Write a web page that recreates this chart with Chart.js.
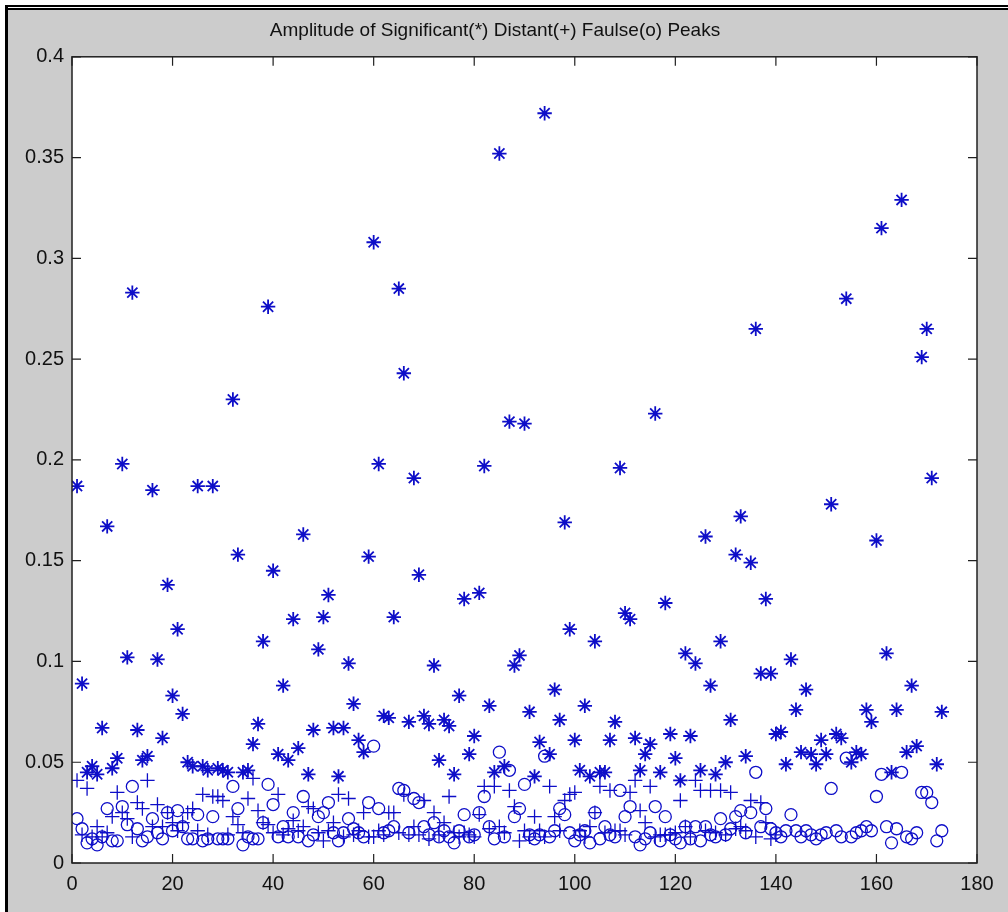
<!DOCTYPE html>
<html>
<head>
<meta charset="utf-8">
<script src="https://cdn.jsdelivr.net/npm/chart.js@4.4.1/dist/chart.umd.min.js"></script>
<style>
  html, body { margin: 0; padding: 0; background: #ffffff; width: 1008px; height: 912px; overflow: hidden; }
  .blk { position: absolute; background: #000; }
  #grey { position: absolute; left: 8px; top: 10px; width: 1000px; height: 902px; background: #cccccc; }
  #c { position: absolute; left: 0; top: 0; }
</style>
</head>
<body>
<div id="grey"></div>
<div class="blk" style="left:5px;top:5px;width:1003px;height:2px"></div>
<div class="blk" style="left:5px;top:8px;width:1003px;height:2px"></div>
<div class="blk" style="left:5px;top:5px;width:3px;height:907px"></div>
<canvas id="c" width="1008" height="912"></canvas>
<script>
// ---- data (index 1..N along x) ----
const titleText = 'Amplitude of Significant(*) Distant(+) Faulse(o) Peaks';
const xTickLabels = ['0','20','40','60','80','100','120','140','160','180'];
const yTickLabels = ['0','0.05','0.1','0.15','0.2','0.25','0.3','0.35','0.4'];

// Significant peaks (*)
const significant = [
  0.187,0.089,0.045,0.048,0.044,0.067,0.167,0.047,0.052,0.198,
  0.102,0.283,0.066,0.051,0.053,0.185,0.101,0.062,0.138,0.083,
  0.116,0.074,0.050,0.048,0.187,0.048,0.046,0.187,0.047,0.046,
  0.045,0.230,0.153,0.045,0.046,0.059,0.069,0.110,0.276,0.145,
  0.054,0.088,0.051,0.121,0.057,0.163,0.044,0.066,0.106,0.122,
  0.133,0.067,0.043,0.067,0.099,0.079,0.061,0.055,0.152,0.308,
  0.198,0.073,0.072,0.122,0.285,0.243,0.070,0.191,0.143,0.073,
  0.069,0.098,0.051,0.071,0.068,0.044,0.083,0.131,0.054,0.063,
  0.134,0.197,0.078,0.045,0.352,0.048,0.219,0.098,0.103,0.218,
  0.075,0.043,0.060,0.372,0.054,0.086,0.071,0.169,0.116,0.061,
  0.046,0.078,0.043,0.110,0.045,0.045,0.061,0.070,0.196,0.124,
  0.121,0.062,0.046,0.054,0.059,0.223,0.045,0.129,0.064,0.052,
  0.041,0.104,0.063,0.099,0.046,0.162,0.088,0.044,0.110,0.050,
  0.071,0.153,0.172,0.053,0.149,0.265,0.094,0.131,0.094,0.064,
  0.065,0.049,0.101,0.076,0.055,0.086,0.054,0.049,0.061,0.054,
  0.178,0.064,0.062,0.280,0.050,0.055,0.054,0.076,0.070,0.160,
  0.315,0.104,0.045,0.076,0.329,0.055,0.088,0.058,0.251,0.265,
  0.191,0.049,0.075
];

// Distant peaks (+)
const distant = [
  0.041,0.014,0.037,0.013,0.018,0.013,0.015,0.023,0.035,0.025,
  0.022,0.013,0.030,0.027,0.041,0.018,0.029,0.018,0.025,0.020,
  0.016,0.020,0.025,0.027,0.016,0.034,0.014,0.033,0.033,0.031,
  0.014,0.023,0.019,0.015,0.032,0.042,0.026,0.020,0.019,0.015,
  0.034,0.014,0.017,0.021,0.016,0.018,0.028,0.027,0.015,0.011,
  0.016,0.020,0.034,0.013,0.032,0.014,0.016,0.025,0.013,0.013,
  0.016,0.014,0.025,0.025,0.015,0.034,0.014,0.018,0.014,0.031,
  0.012,0.025,0.014,0.020,0.033,0.015,0.013,0.015,0.014,0.013,
  0.024,0.038,0.017,0.038,0.018,0.015,0.036,0.028,0.011,0.016,
  0.013,0.023,0.016,0.013,0.038,0.023,0.016,0.031,0.034,0.035,
  0.016,0.013,0.018,0.025,0.038,0.015,0.036,0.016,0.016,0.014,
  0.035,0.041,0.026,0.020,0.038,0.013,0.014,0.014,0.014,0.015,
  0.031,0.018,0.013,0.041,0.036,0.016,0.036,0.015,0.036,0.014,
  0.035,0.017,0.018,0.016,0.031,0.013,0.030,0.020,0.012,0.014
];

// False peaks (o)
const falsePeaks = [
  0.022,0.017,0.010,0.012,0.009,0.013,0.027,0.011,0.011,0.028,
  0.019,0.038,0.017,0.011,0.013,0.022,0.015,0.012,0.025,0.016,
  0.026,0.018,0.012,0.012,0.024,0.011,0.012,0.023,0.012,0.012,
  0.012,0.038,0.027,0.009,0.013,0.012,0.012,0.020,0.039,0.029,
  0.013,0.018,0.013,0.025,0.013,0.033,0.011,0.014,0.023,0.025,
  0.030,0.015,0.011,0.015,0.022,0.017,0.015,0.013,0.030,0.058,
  0.027,0.015,0.016,0.018,0.037,0.036,0.015,0.032,0.030,0.018,
  0.014,0.020,0.013,0.016,0.013,0.010,0.016,0.024,0.013,0.014,
  0.025,0.033,0.018,0.012,0.055,0.013,0.046,0.023,0.027,0.039,
  0.014,0.012,0.014,0.053,0.013,0.016,0.027,0.024,0.015,0.011,
  0.014,0.016,0.010,0.025,0.012,0.018,0.014,0.013,0.036,0.023,
  0.028,0.013,0.009,0.012,0.015,0.028,0.011,0.023,0.014,0.012,
  0.010,0.018,0.012,0.018,0.011,0.018,0.014,0.013,0.022,0.014,
  0.017,0.023,0.026,0.015,0.025,0.045,0.018,0.027,0.017,0.015,
  0.013,0.016,0.024,0.016,0.013,0.016,0.014,0.012,0.014,0.015,
  0.037,0.016,0.013,0.052,0.013,0.015,0.016,0.018,0.016,0.033,
  0.044,0.018,0.010,0.017,0.045,0.013,0.012,0.015,0.035,0.035,
  0.030,0.011,0.016
];

const markerColor = 'rgb(14,14,200)';
const toPoints = arr => arr.map((v, i) => ({ x: i + 1, y: v }));

const axesFrame = {
  id: 'axesFrame',
  beforeDraw(chart) {
    const { ctx, chartArea: a } = chart;
    ctx.save();
    ctx.fillStyle = '#ffffff';
    ctx.fillRect(a.left, a.top, a.right - a.left, a.bottom - a.top);
    ctx.restore();
  },
  afterDraw(chart) {
    const { ctx, chartArea: a, scales } = chart;
    const tl = 9;
    ctx.save();
    ctx.strokeStyle = '#202020';
    ctx.lineWidth = 1.5;
    ctx.strokeRect(a.left, a.top, a.right - a.left, a.bottom - a.top);
    ctx.lineWidth = 1.2;
    ctx.beginPath();
    scales.x.ticks.forEach(t => {
      const px = scales.x.getPixelForValue(t.value);
      ctx.moveTo(px, a.bottom); ctx.lineTo(px, a.bottom - tl);
      ctx.moveTo(px, a.top); ctx.lineTo(px, a.top + tl);
    });
    scales.y.ticks.forEach(t => {
      const py = scales.y.getPixelForValue(t.value);
      ctx.moveTo(a.left, py); ctx.lineTo(a.left + tl, py);
      ctx.moveTo(a.right, py); ctx.lineTo(a.right - tl, py);
    });
    ctx.stroke();
    ctx.restore();
  }
};

const tickFont = { family: "'Liberation Sans', Arial, sans-serif", size: 20 };

new Chart(document.getElementById('c'), {
  type: 'scatter',
  data: {
    datasets: [
      { label: 'Significant', data: toPoints(significant), pointStyle: 'star',
        radius: 7.2, borderWidth: 1.8, borderColor: markerColor, backgroundColor: markerColor },
      { label: 'Distant', data: toPoints(distant), pointStyle: 'cross',
        radius: 7.2, borderWidth: 1.3, borderColor: markerColor, backgroundColor: markerColor },
      { label: 'False', data: toPoints(falsePeaks), pointStyle: 'circle',
        radius: 6, borderWidth: 1.3, borderColor: markerColor, backgroundColor: 'rgba(0,0,0,0)' }
    ]
  },
  options: {
    responsive: false,
    animation: false,
    devicePixelRatio: 1,
    layout: { padding: { left: 0, right: 18, top: 0, bottom: 0 } },
    plugins: {
      legend: { display: false },
      tooltip: { enabled: false },
      title: {
        display: true, text: titleText, color: '#111',
        font: { family: "'Liberation Sans', Arial, sans-serif", size: 19, weight: 'normal' },
        padding: { top: 19, bottom: 15 }
      }
    },
    scales: {
      x: {
        type: 'linear', min: 0, max: 180,
        grid: { display: false, drawTicks: false },
        border: { display: false },
        ticks: { stepSize: 20, autoSkip: false, maxRotation: 0, padding: 9, color: '#111', font: tickFont,
          callback: (v, i) => xTickLabels[i] },
        afterFit: s => { s.height = 49; }
      },
      y: {
        type: 'linear', min: 0, max: 0.4,
        grid: { display: false, drawTicks: false },
        border: { display: false },
        ticks: { stepSize: 0.05, autoSkip: false, padding: 8, color: '#111', font: tickFont,
          callback: (v, i) => yTickLabels[i] },
        afterFit: s => { s.width = 72; }
      },
      y2: {
        type: 'linear', position: 'right', min: 0, max: 0.4,
        grid: { display: false, drawTicks: false },
        border: { display: false },
        ticks: { display: false },
        afterFit: s => { s.width = 13; }
      }
    }
  },
  plugins: [axesFrame]
});
</script>
</body>
</html>
